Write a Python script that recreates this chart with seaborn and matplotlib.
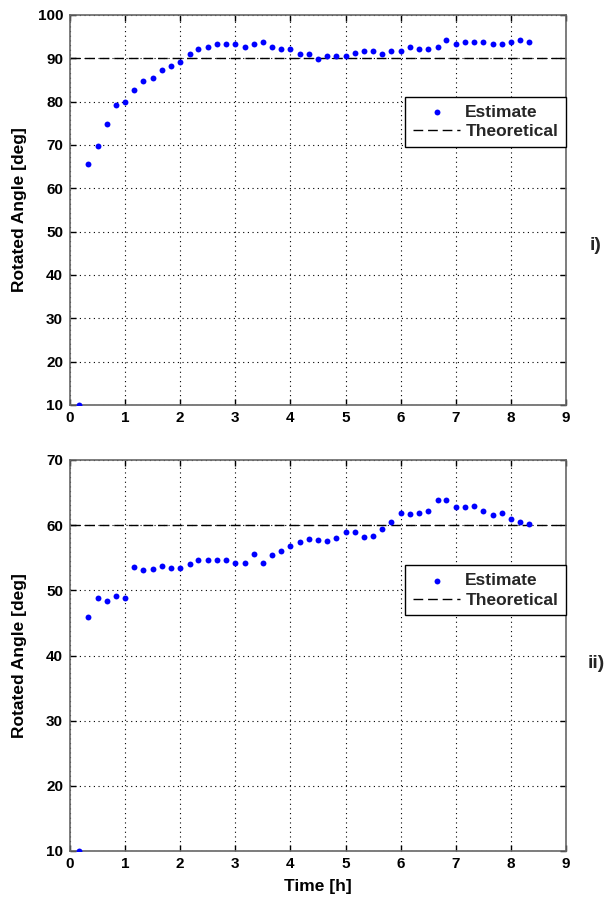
import matplotlib
matplotlib.use("Agg")
import matplotlib.pyplot as plt
import seaborn as sns
import pandas as pd

# ---------------- data ----------------
time_h = [0.17, 0.33, 0.50, 0.67, 0.83, 1.00, 1.17, 1.33, 1.50, 1.67,
          1.83, 2.00, 2.17, 2.33, 2.50, 2.67, 2.83, 3.00, 3.17, 3.33,
          3.50, 3.67, 3.83, 4.00, 4.17, 4.33, 4.50, 4.67, 4.83, 5.00,
          5.17, 5.33, 5.50, 5.67, 5.83, 6.00, 6.17, 6.33, 6.50, 6.67,
          6.83, 7.00, 7.17, 7.33, 7.50, 7.67, 7.83, 8.00, 8.17, 8.33]

estimate_i = [10.0, 65.5, 69.8, 74.8, 79.2, 80.0, 82.7, 84.8, 85.5, 87.2,
              88.2, 89.2, 91.1, 92.1, 92.7, 93.2, 93.2, 93.2, 92.6, 93.2,
              93.8, 92.7, 92.2, 92.2, 91.1, 91.1, 89.8, 90.6, 90.6, 90.6,
              91.2, 91.6, 91.6, 91.1, 91.6, 91.6, 92.7, 92.2, 92.2, 92.7,
              94.3, 93.2, 93.7, 93.7, 93.7, 93.2, 93.2, 93.7, 94.2, 93.7]

estimate_ii = [10.0, 45.9, 48.9, 48.4, 49.1, 48.9, 53.6, 53.1, 53.3, 53.8,
               53.5, 53.5, 54.1, 54.7, 54.6, 54.6, 54.6, 54.2, 54.2, 55.6,
               54.2, 55.4, 56.0, 56.8, 57.4, 57.9, 57.7, 57.5, 58.05, 58.9,
               58.9, 58.2, 58.4, 59.4, 60.5, 61.9, 61.7, 61.9, 62.2, 63.9,
               63.9, 62.8, 62.8, 63.0, 62.1, 61.6, 61.9, 61.0, 60.5, 60.15]

theoretical_i = 90
theoretical_ii = 60

x_ticks = [0, 1, 2, 3, 4, 5, 6, 7, 8, 9]
y_ticks_i = [10, 20, 30, 40, 50, 60, 70, 80, 90, 100]
y_ticks_ii = [10, 20, 30, 40, 50, 60, 70]

panel_labels = ["i)", "ii)"]
x_label = "Time [h]"
y_label = "Rotated Angle [deg]"
legend_labels = ["Estimate", "Theoretical"]

# ---------------- style ----------------
sns.set_theme(style="white")
plt.rcParams["font.family"] = ["Liberation Sans", "DejaVu Sans"]
plt.rcParams["font.weight"] = "bold"

fig = plt.figure(figsize=(6.15, 8.99), dpi=100)
ax1 = fig.add_axes([70 / 615, 1 - 405 / 899, 496 / 615, 390 / 899])
ax2 = fig.add_axes([70 / 615, 1 - 851 / 899, 496 / 615, 391 / 899])

panels = [
    (ax1, estimate_i, theoretical_i, y_ticks_i, 0.79, panel_labels[0], 245),
    (ax2, estimate_ii, theoretical_ii, y_ticks_ii, 0.731, panel_labels[1], 663),
]

for ax, est, theo, yt, leg_top, plab, plab_y in panels:
    df = pd.DataFrame({"Time": time_h, "Angle": est})
    sns.scatterplot(data=df, x="Time", y="Angle", ax=ax, color="#0000ff",
                    marker="o", s=18, linewidth=0, label=legend_labels[0],
                    zorder=3)
    ax.axhline(theo, color="black", lw=1.0, ls=(0, (7, 3.5)),
               label=legend_labels[1], zorder=2)
    ax.set_xlim(x_ticks[0], x_ticks[-1])
    ax.set_ylim(yt[0], yt[-1])
    ax.set_xticks(x_ticks)
    ax.set_yticks(yt)
    ax.grid(True, color="black", lw=0.8, ls=(0, (1, 3.2)))
    ax.set_axisbelow(True)
    for sp in ax.spines.values():
        sp.set_visible(True)
        sp.set_color("#666666")
        sp.set_linewidth(1.2)
    ax.tick_params(axis="both", direction="in", length=4.5, width=1,
                   color="black", labelsize=11, top=True, right=True,
                   bottom=True, left=True, labelcolor="black")
    ax.tick_params(axis="y", pad=5)
    ax.tick_params(axis="x", pad=4)
    for lbl in ax.get_xticklabels() + ax.get_yticklabels():
        lbl.set_fontweight("bold")
    ax.set_ylabel(y_label, fontsize=12.5, fontweight="bold", color="black")
    ax.yaxis.set_label_coords(-0.087, 0.5)
    ax.set_xlabel("")
    leg = ax.legend(loc="upper right", bbox_to_anchor=(1.0, leg_top),
                    frameon=True, fancybox=False, framealpha=1,
                    edgecolor="black", prop={"weight": "bold", "size": 12.5},
                    handlelength=2.7, borderpad=0.45, labelspacing=0.25,
                    handletextpad=0.3, borderaxespad=0, scatterpoints=1)
    leg.get_frame().set_linewidth(1.0)
    fig.text(596 / 615, 1 - plab_y / 899, plab, fontsize=14,
             fontweight="bold", ha="center", va="center")

ax1.set_xlabel("")
ax2.set_xlabel(x_label, fontsize=12.5, fontweight="bold", color="black")
ax2.xaxis.set_label_coords(0.5, -0.072)

fig.savefig("out.png", dpi=100)
